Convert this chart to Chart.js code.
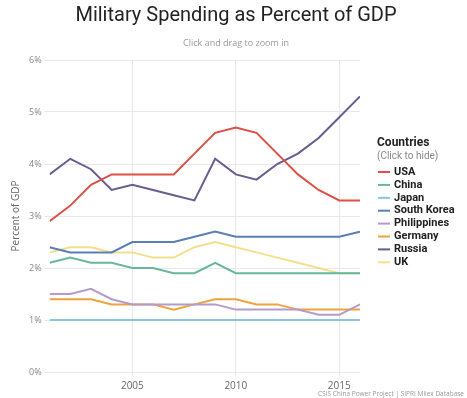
<!DOCTYPE html>
<html>
<head>
<meta charset="utf-8">
<script src="https://cdn.jsdelivr.net/npm/chart.js@4"></script>
<style>
html,body{margin:0;padding:0;background:#fff;}
#wrap{width:467px;height:398px;position:relative;}
</style>
</head>
<body>
<div id="wrap"><canvas id="c" width="467" height="398"></canvas></div>
<script>
const years = [2001,2002,2003,2004,2005,2006,2007,2008,2009,2010,2011,2012,2013,2014,2015,2016];
const countries = ["USA","China","Japan","South Korea","Philippines","Germany","Russia","UK"];
const colors = ["#dc5046","#67b89b","#8cc4df","#5a7fb5","#b39ccb","#eea33a","#6b5b8f","#f3df8c"];
const usa         = [2.9,3.2,3.6,3.8,3.8,3.8,3.8,4.2,4.6,4.7,4.6,4.2,3.8,3.5,3.3,3.3];
const china       = [2.1,2.2,2.1,2.1,2.0,2.0,1.9,1.9,2.1,1.9,1.9,1.9,1.9,1.9,1.9,1.9];
const japan       = [1.0,1.0,1.0,1.0,1.0,1.0,1.0,1.0,1.0,1.0,1.0,1.0,1.0,1.0,1.0,1.0];
const southKorea  = [2.4,2.3,2.3,2.3,2.5,2.5,2.5,2.6,2.7,2.6,2.6,2.6,2.6,2.6,2.6,2.7];
const philippines = [1.5,1.5,1.6,1.4,1.3,1.3,1.3,1.3,1.3,1.2,1.2,1.2,1.2,1.1,1.1,1.3];
const germany     = [1.4,1.4,1.4,1.3,1.3,1.3,1.2,1.3,1.4,1.4,1.3,1.3,1.2,1.2,1.2,1.2];
const russia      = [3.8,4.1,3.9,3.5,3.6,3.5,3.4,3.3,4.1,3.8,3.7,4.0,4.2,4.5,4.9,5.3];
const uk          = [2.3,2.4,2.4,2.3,2.3,2.2,2.2,2.4,2.5,2.4,2.3,2.2,2.1,2.0,1.9,1.9];
const xTicks = [2005,2010,2015];
const yTicks = [0,1,2,3,4,5,6];
const series = [usa,china,japan,southKorea,philippines,germany,russia,uk];

const datasets = countries.map((name,i)=>({
  label:name,
  data: years.map((y,j)=>({x:y,y:series[i][j]})),
  borderColor: colors[i],
  backgroundColor: colors[i],
  borderWidth: 2,
  pointRadius: 0,
  pointHoverRadius: 0,
  tension: 0,
  fill: false
}));

const sideLegend = {
  id:'sideLegend',
  afterDraw(chart){
    const ctx = chart.ctx;
    ctx.save();
    ctx.textBaseline = 'middle';
    ctx.textAlign = 'center';
    ctx.fillStyle = '#222';
    ctx.font = '20px Roboto, sans-serif';
    ctx.fillText('Military Spending as Percent of GDP', 236, 16);
    ctx.fillStyle = '#999';
    ctx.font = '9px "Open Sans", sans-serif';
    ctx.fillText('Click and drag to zoom in', 236, 43);

    ctx.textAlign = 'left';
    const x0 = 377;
    ctx.fillStyle = '#222';
    ctx.font = 'bold 12px Roboto, "Liberation Sans", sans-serif';
    ctx.fillText('Countries', x0, 143);
    ctx.fillStyle = '#888';
    ctx.font = '10px Roboto, "Liberation Sans", sans-serif';
    ctx.fillText('(Click to hide)', x0, 156);
    chart.data.datasets.forEach((ds,i)=>{
      const y = 172 + i*12.9;
      ctx.strokeStyle = ds.borderColor;
      ctx.lineWidth = 2;
      ctx.beginPath();
      ctx.moveTo(x0+1, y);
      ctx.lineTo(x0+13, y);
      ctx.stroke();
      ctx.fillStyle = '#222';
      ctx.font = 'bold 11px Roboto, "Liberation Sans", sans-serif';
      ctx.fillText(ds.label, x0+17, y);
    });
    ctx.textAlign = 'right';
    ctx.fillStyle = '#999';
    ctx.font = '6.5px "Open Sans", sans-serif';
    ctx.fillText('CSIS China Power Project | SIPRI Milex Database', 464, 394);
    ctx.restore();
  }
};

new Chart(document.getElementById('c'), {
  type:'line',
  data:{datasets},
  options:{
    responsive:false,
    animation:false,
    layout:{padding:{left:6,right:107,bottom:2,top:60}},
    plugins:{
      legend:{display:false},
      tooltip:{enabled:false},
      title:{display:false},
      subtitle:{display:false}
    },
    scales:{
      x:{type:'linear',min:2001,max:2016,
        afterBuildTicks(axis){axis.ticks = xTicks.map(v=>({value:v}));},
        ticks:{color:'#666',font:{family:'"Open Sans"',size:10},callback:v=>String(v),padding:4,maxRotation:0},
        grid:{color:'#e8e8e8',tickLength:4},
        border:{display:false}
      },
      y:{min:0,max:6,
        afterBuildTicks(axis){axis.ticks = yTicks.map(v=>({value:v}));},
        ticks:{color:'#888',font:{family:'"Open Sans"',size:9},callback:v=>v+'%',padding:3},
        grid:{color:'#e8e8e8',tickLength:5},
        border:{display:false},
        title:{display:true,text:'Percent of GDP',color:'#666',font:{family:'"Open Sans"',size:10},padding:{bottom:4}}
      }
    }
  },
  plugins:[sideLegend]
});
</script>
</body>
</html>
